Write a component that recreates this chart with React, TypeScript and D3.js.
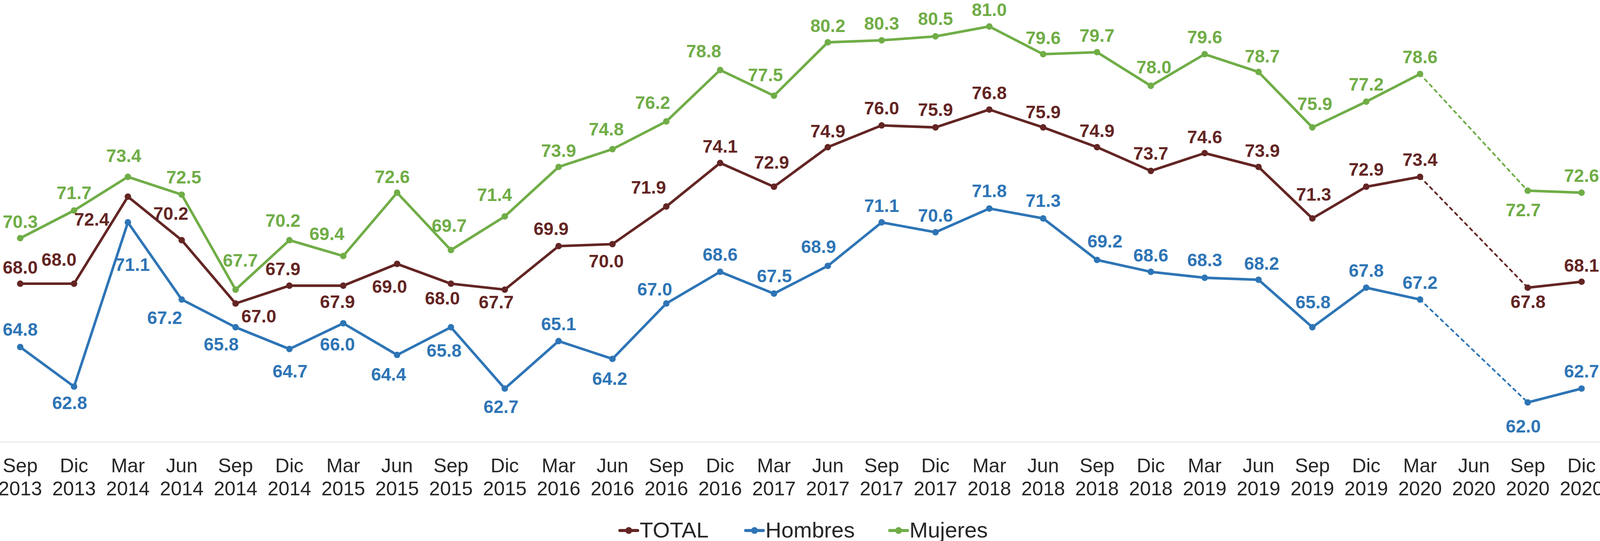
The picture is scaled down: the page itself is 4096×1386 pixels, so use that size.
import React from 'react';
import * as d3 from 'd3';

// quarterly series, Jun 2020 has no survey (null)
const categories = [
  'Sep 2013', 'Dic 2013',
  'Mar 2014', 'Jun 2014', 'Sep 2014', 'Dic 2014',
  'Mar 2015', 'Jun 2015', 'Sep 2015', 'Dic 2015',
  'Mar 2016', 'Jun 2016', 'Sep 2016', 'Dic 2016',
  'Mar 2017', 'Jun 2017', 'Sep 2017', 'Dic 2017',
  'Mar 2018', 'Jun 2018', 'Sep 2018', 'Dic 2018',
  'Mar 2019', 'Jun 2019', 'Sep 2019', 'Dic 2019',
  'Mar 2020', 'Jun 2020', 'Sep 2020', 'Dic 2020',
];

const totalValues = [
  68.0, 68.0, 72.4, 70.2, 67.0, 67.9, 67.9, 69.0, 68.0, 67.7,
  69.9, 70.0, 71.9, 74.1, 72.9, 74.9, 76.0, 75.9, 76.8, 75.9,
  74.9, 73.7, 74.6, 73.9, 71.3, 72.9, 73.4, null, 67.8, 68.1,
];

const hombresValues = [
  64.8, 62.8, 71.1, 67.2, 65.8, 64.7, 66.0, 64.4, 65.8, 62.7,
  65.1, 64.2, 67.0, 68.6, 67.5, 68.9, 71.1, 70.6, 71.8, 71.3,
  69.2, 68.6, 68.3, 68.2, 65.8, 67.8, 67.2, null, 62.0, 62.7,
];

const mujeresValues = [
  70.3, 71.7, 73.4, 72.5, 67.7, 70.2, 69.4, 72.6, 69.7, 71.4,
  73.9, 74.8, 76.2, 78.8, 77.5, 80.2, 80.3, 80.5, 81.0, 79.6,
  79.7, 78.0, 79.6, 78.7, 75.9, 77.2, 78.6, null, 72.7, 72.6,
];

const yDomain = [60, 82];

// data label nudges [dx, baseline dy] relative to the point, reference px
type Off = [number, number] | null;
const totalLabelOffsets: Off[] = [
  [0, -30], [-44, -52], [-106, 85], [-32, -60], [68, 56], [-19, -31], [-17, 65], [-22, 85], [-25, 61], [-25, 55],
  [-22, -33], [-18, 68], [-52, -38], [0, -30], [-7, -53], [0, -29], [0, -32], [0, -34], [0, -31], [0, -27],
  [0, -30], [0, -33], [0, -29], [11, -29], [4, -52], [0, -32], [0, -32], null, [1, 59], [0, -30],
];
const hombresLabelOffsets: Off[] = [
  [0, -33], [-13, 66], [13, 142], [-50, 72], [-42, 68], [2, 83], [-17, 80], [-25, 75], [-20, 86], [-11, 71],
  [0, -32], [-8, 76], [-34, -24], [0, -33], [1, -33], [-27, -38], [0, -31], [0, -31], [0, -33], [0, -34],
  [23, -37], [0, -30], [0, -34], [9, -29], [2, -55], [0, -32], [0, -31], null, [-13, 88], [0, -33],
];
const mujeresLabelOffsets: Off[] = [
  [0, -30], [0, -33], [-12, -43], [6, -33], [14, -68], [-19, -39], [-48, -47], [-14, -28], [-5, -53], [-30, -45],
  [0, -29], [-18, -40], [-40, -37], [-48, -37], [-25, -43], [0, -30], [0, -31], [0, -33], [0, -31], [0, -29],
  [0, -31], [9, -37], [0, -32], [11, -28], [7, -51], [0, -32], [0, -32], null, [-13, 75], [0, -32],
];

const legendX = [1811.7, 2180, 2602];

const SCALE = 0.874;
const FONT = '"Liberation Sans", Arial, Helvetica, sans-serif';

const series = [
  { name: 'TOTAL', values: totalValues, color: '#632523', offsets: totalLabelOffsets },
  { name: 'Hombres', values: hombresValues, color: '#2E75B6', offsets: hombresLabelOffsets },
  { name: 'Mujeres', values: mujeresValues, color: '#70AD47', offsets: mujeresLabelOffsets },
];

export default function App() {
  // everything laid out in reference pixels, then scaled down
  const x = d3.scaleBand<string>().domain(categories).range([-19.65, 4711.35]).paddingInner(0).paddingOuter(0);
  const cx = (i: number) => (x(categories[i]) as number) + x.bandwidth() / 2;
  const y = d3.scaleLinear().domain(yDomain).range([1295.6, 19.6]);

  const line = d3
    .line<number | null>()
    .defined((d) => d != null)
    .x((_, i) => cx(i))
    .y((d) => y(d as number));

  const gapSegments = (values: (number | null)[]) => {
    const segs: [number, number][] = [];
    let last = -1;
    values.forEach((v, i) => {
      if (v == null) return;
      if (last >= 0 && i - last > 1) segs.push([last, i]);
      last = i;
    });
    return segs;
  };

  const straight = d3.line<[number, number]>();

  return (
    <div style={{ position: 'absolute', left: 0, top: 0 }}>
      <svg width={4096} height={1386} style={{ display: 'block', background: '#fff' }}>
        <g transform={`scale(${SCALE})`} fontFamily={FONT}>
          {/* category axis */}
          <line x1={-19.65} x2={4711.35} y1={y(60)} y2={y(60)} stroke="#d9d9d9" strokeWidth={2} />
          {categories.map((c, i) => {
            const [m, yr] = c.split(' ');
            return (
              <text key={c} x={cx(i)} textAnchor="middle" fontSize={57.5} fill="#262626">
                <tspan x={cx(i)} y={1385}>{m}</tspan>
                <tspan x={cx(i)} y={1452}>{yr}</tspan>
              </text>
            );
          })}

          {/* lines */}
          {series.map((s) => (
            <g key={s.name}>
              <path d={line(s.values) || ''} fill="none" stroke={s.color} strokeWidth={7.5} strokeLinejoin="round" />
              {gapSegments(s.values).map(([a, b]) => (
                <path
                  key={a}
                  d={straight([[cx(a), y(s.values[a] as number)], [cx(b), y(s.values[b] as number)]]) || ''}
                  fill="none"
                  stroke={s.color}
                  strokeWidth={5}
                  strokeDasharray="9 12"
                  strokeLinecap="round"
                />
              ))}
            </g>
          ))}

          {/* markers */}
          {series.map((s) => (
            <g key={s.name + '-m'}>
              {s.values.map((v, i) =>
                v == null ? null : <circle key={i} cx={cx(i)} cy={y(v)} r={9.5} fill={s.color} />
              )}
            </g>
          ))}

          {/* data labels */}
          {series.map((s) => (
            <g key={s.name + '-l'} fontWeight="bold" fontSize={52.7} fill={s.color} textAnchor="middle">
              {s.values.map((v, i) => {
                const o = s.offsets[i];
                if (v == null || !o) return null;
                return (
                  <text key={i} x={cx(i) + o[0]} y={y(v) + o[1]}>
                    {d3.format('.1f')(v)}
                  </text>
                );
              })}
            </g>
          ))}

          {/* legend */}
          {series.map((s, k) => {
            const lx = legendX[k];
            return (
              <g key={s.name + '-lg'}>
                <line x1={lx + 4} x2={lx + 56} y1={1555} y2={1555} stroke={s.color} strokeWidth={9} strokeLinecap="round" />
                <circle cx={lx + 30} cy={1555} r={10} fill={s.color} />
                <text x={lx + 62} y={1576} fontSize={64.5} fill="#262626">
                  {s.name}
                </text>
              </g>
            );
          })}
        </g>
      </svg>
    </div>
  );
}
